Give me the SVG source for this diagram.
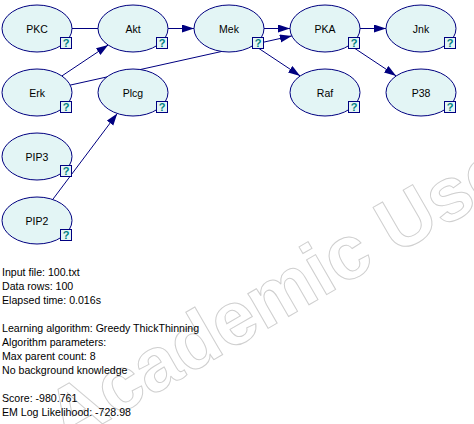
<svg xmlns="http://www.w3.org/2000/svg" width="474" height="424" viewBox="0 0 474 424">
<style>
.wm{font-family:"Liberation Sans",Arial,sans-serif;font-size:76px;font-weight:bold;fill:none;stroke:#cfcfcf;stroke-width:1}
.node ellipse{fill:#e3f5f5;stroke:#000080;stroke-width:1}
.node rect{fill:#e3f5f5;stroke:#000080;stroke-width:1}
.lbl{font-family:"Liberation Sans",Arial,sans-serif;font-size:10.5px;fill:#000;text-anchor:middle}
.q{font-family:"Liberation Sans",Arial,sans-serif;font-size:11px;font-weight:bold;fill:#008080;text-anchor:middle}
.edges line{stroke:#000080;stroke-width:1}
.info{font-family:"Liberation Sans",Arial,sans-serif;font-size:10.6px;fill:#000}
</style>
<defs>
<marker id="arr" markerUnits="userSpaceOnUse" markerWidth="13" markerHeight="9" refX="12" refY="4" orient="auto">
<path d="M0,0 L12,4 L0,8 Z" fill="#000080"/>
</marker>
</defs>
<rect width="474" height="424" fill="#fff"/>
<text class="wm" transform="translate(66,445) rotate(-30)">Academic Use</text>
<g class="edges">
<line x1="72" y1="28.5" x2="98" y2="28.5"/>
<line x1="168" y1="28.5" x2="194" y2="28.5" marker-end="url(#arr)"/>
<line x1="264" y1="28.5" x2="290" y2="28.5" marker-end="url(#arr)"/>
<line x1="360" y1="28.5" x2="386" y2="28.5" marker-end="url(#arr)"/>
<line x1="61.8" y1="76" x2="108.2" y2="45" marker-end="url(#arr)"/>
<line x1="70.2" y1="85.1" x2="291.8" y2="35.9" marker-end="url(#arr)"/>
<line x1="253.8" y1="45.1" x2="300.2" y2="75.9" marker-end="url(#arr)"/>
<line x1="349.8" y1="45.1" x2="396.2" y2="75.9" marker-end="url(#arr)"/>
<line x1="52.7" y1="199.5" x2="117.3" y2="113.5" marker-end="url(#arr)"/>
</g>
<g id="PKC" class="node"><ellipse cx="37" cy="28.5" rx="35" ry="23.5"/><text class="lbl" x="37" y="32.5">PKC</text><rect x="60.5" y="37.5" width="11" height="11"/><text class="q" x="66" y="47">?</text></g>
<g id="Akt" class="node"><ellipse cx="133" cy="28.5" rx="35" ry="23.5"/><text class="lbl" x="133" y="32.5">Akt</text><rect x="156.5" y="37.5" width="11" height="11"/><text class="q" x="162" y="47">?</text></g>
<g id="Mek" class="node"><ellipse cx="229" cy="28.5" rx="35" ry="23.5"/><text class="lbl" x="229" y="32.5">Mek</text><rect x="252.5" y="37.5" width="11" height="11"/><text class="q" x="258" y="47">?</text></g>
<g id="PKA" class="node"><ellipse cx="325" cy="28.5" rx="35" ry="23.5"/><text class="lbl" x="325" y="32.5">PKA</text><rect x="348.5" y="37.5" width="11" height="11"/><text class="q" x="354" y="47">?</text></g>
<g id="Jnk" class="node"><ellipse cx="421" cy="28.5" rx="35" ry="23.5"/><text class="lbl" x="421" y="32.5">Jnk</text><rect x="444.5" y="37.5" width="11" height="11"/><text class="q" x="450" y="47">?</text></g>
<g id="Erk" class="node"><ellipse cx="37" cy="92.5" rx="35" ry="23.5"/><text class="lbl" x="37" y="96.5">Erk</text><rect x="60.5" y="101.5" width="11" height="11"/><text class="q" x="66" y="111">?</text></g>
<g id="Plcg" class="node"><ellipse cx="133" cy="92.5" rx="35" ry="23.5"/><text class="lbl" x="133" y="96.5">Plcg</text><rect x="156.5" y="101.5" width="11" height="11"/><text class="q" x="162" y="111">?</text></g>
<g id="Raf" class="node"><ellipse cx="325" cy="92.5" rx="35" ry="23.5"/><text class="lbl" x="325" y="96.5">Raf</text><rect x="348.5" y="101.5" width="11" height="11"/><text class="q" x="354" y="111">?</text></g>
<g id="P38" class="node"><ellipse cx="421" cy="92.5" rx="35" ry="23.5"/><text class="lbl" x="421" y="96.5">P38</text><rect x="444.5" y="101.5" width="11" height="11"/><text class="q" x="450" y="111">?</text></g>
<g id="PIP3" class="node"><ellipse cx="37" cy="156.5" rx="35" ry="23.5"/><text class="lbl" x="37" y="160.5">PIP3</text><rect x="60.5" y="165.5" width="11" height="11"/><text class="q" x="66" y="175">?</text></g>
<g id="PIP2" class="node"><ellipse cx="37" cy="220.5" rx="35" ry="23.5"/><text class="lbl" x="37" y="224.5">PIP2</text><rect x="60.5" y="229.5" width="11" height="11"/><text class="q" x="66" y="239">?</text></g>
<g id="info">
<text class="info" x="2" y="276">Input file: 100.txt</text>
<text class="info" x="2" y="290">Data rows: 100</text>
<text class="info" x="2" y="304">Elapsed time: 0.016s</text>
<text class="info" x="2" y="332">Learning algorithm: Greedy ThickThinning</text>
<text class="info" x="2" y="346">Algorithm parameters:</text>
<text class="info" x="2" y="360">Max parent count: 8</text>
<text class="info" x="2" y="374">No background knowledge</text>
<text class="info" x="2" y="402">Score: -980.761</text>
<text class="info" x="2" y="416">EM Log Likelihood: -728.98</text>
</g>
</svg>
